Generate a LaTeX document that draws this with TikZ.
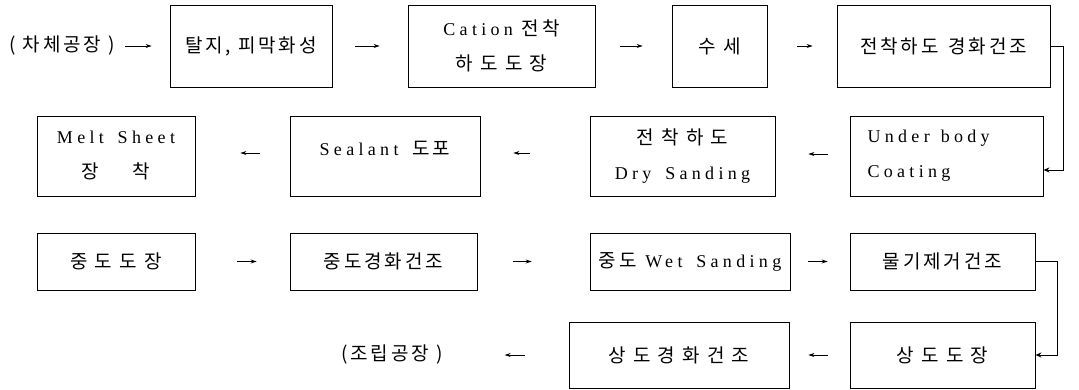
\documentclass[tikz,border=0pt]{standalone}
\usepackage{fontspec}
\setmainfont{Liberation Serif}[LetterSpace=24]
\newfontfamily\kr{Noto Sans CJK KR}[LetterSpace=15]
\usetikzlibrary{arrows.meta}
\tikzset{
  box/.style={draw, line width=0.9pt, inner sep=0pt, align=center,
    font=\fontsize{18}{35}\selectfont},
  kbox/.style={box, font=\kr\fontsize{19}{35}\selectfont},
  lbl/.style={inner sep=0pt, font=\kr\fontsize{19}{22}\selectfont},
  arr/.style={-{Stealth[length=6pt,width=4pt]}, line width=0.8pt},
  hook/.style={-{Stealth[length=6pt,width=5pt]}, line width=0.9pt},
}
\newcommand\K[1]{{\kr\fontsize{19}{35}\selectfont #1}}
\newcommand\wsp{\ \hspace{5pt}}
\begin{document}
\begin{tikzpicture}[x=1pt,y=-1pt]
\useasboundingbox (0,0) rectangle (1079,390);
% row 1
\node[lbl] (start) at (62,46) {( 차체공장 )};
\node[kbox, minimum width=162, minimum height=82] (b1) at (251,46) {탈지, 피막화성};
\node[box, minimum width=187, minimum height=82] (b2) at (501.5,46) {Cation \K{전착}\\\K{하 도 도 장}};
\node[kbox, minimum width=95, minimum height=82] (b3) at (719.5,46) {수 세};
\node[kbox, minimum width=213, minimum height=82] (b4) at (943.5,46) {전착하도\hspace{10pt}경화건조};
% row 2
\node[box, minimum width=158, minimum height=80] (melt) at (116,156) {Melt\wsp Sheet\\\K{장\hspace{34pt}착}};
\node[box, minimum width=190, minimum height=80] (seal) at (385,156) {Sealant\hspace{14pt}\K{도포}\\[-19pt]\mbox{}};
\node[box, minimum width=185, minimum height=80] (dry) at (682.5,156) {\K{전 착 하 도}\\Dry\wsp Sanding};
\node[box, minimum width=193, minimum height=80, align=left, text width=158] (under) at (946.5,156) {Under\wsp body\\Coating};
% row 3
\node[kbox, minimum width=158, minimum height=57] (jd) at (116,261.5) {중 도 도 장};
\node[kbox, minimum width=187, minimum height=57] (jk) at (383.5,261.5) {중도경화건조};
\node[box, minimum width=200, minimum height=57] (wet) at (690,261.5) {\K{중도} Wet\wsp Sanding};
\node[kbox, minimum width=185, minimum height=57] (mul) at (942.5,261.5) {물기제거건조};
% row 4
\node[kbox, minimum width=220, minimum height=66] (sk) at (679,355) {상 도 경 화 건 조};
\node[kbox, minimum width=185, minimum height=66] (sd) at (942.5,355) {상 도 도 장};
\node[lbl] (end) at (392,355) {(조립공장 )};
% arrows row 1
\draw[arr] ([xshift=10pt]start.east) -- ([xshift=-18pt]b1.west);
\draw[arr] ([xshift=23pt]b1.east) -- ([xshift=-28pt]b2.west);
\draw[arr] ([xshift=25pt]b2.east) -- ([xshift=-29pt]b3.west);
\draw[arr] ([xshift=30pt]b3.east) -- ([xshift=-24pt]b4.west);
\draw[hook] (b4.east) -- ++(13,0) |- ([yshift=-14pt]under.east);
% arrows row 2
\draw[arr] ([xshift=-22pt,yshift=2pt]under.west) -- ([xshift=33pt,yshift=2pt]dry.east);
\draw[arr] ([xshift=-60pt,yshift=3pt]dry.west) -- ([xshift=33pt,yshift=3pt]seal.east);
\draw[arr] ([xshift=-30pt,yshift=3pt]seal.west) -- ([xshift=45pt,yshift=3pt]melt.east);
% arrows row 3
\draw[arr] ([xshift=42pt]jd.east) -- ([xshift=-33pt]jk.west);
\draw[arr] ([xshift=36pt]jk.east) -- ([xshift=-58pt]wet.west);
\draw[arr] ([xshift=18pt]wet.east) -- ([xshift=-22pt]mul.west);
\draw[hook] (mul.east) -- ++(22,0) |- (sd.east);
% arrows row 4
\draw[arr] ([xshift=-22pt]sd.west) -- ([xshift=19pt]sk.east);
\draw[arr] ([xshift=-44pt]sk.west) -- ([xshift=-64pt]sk.west);
\end{tikzpicture}
\end{document}
